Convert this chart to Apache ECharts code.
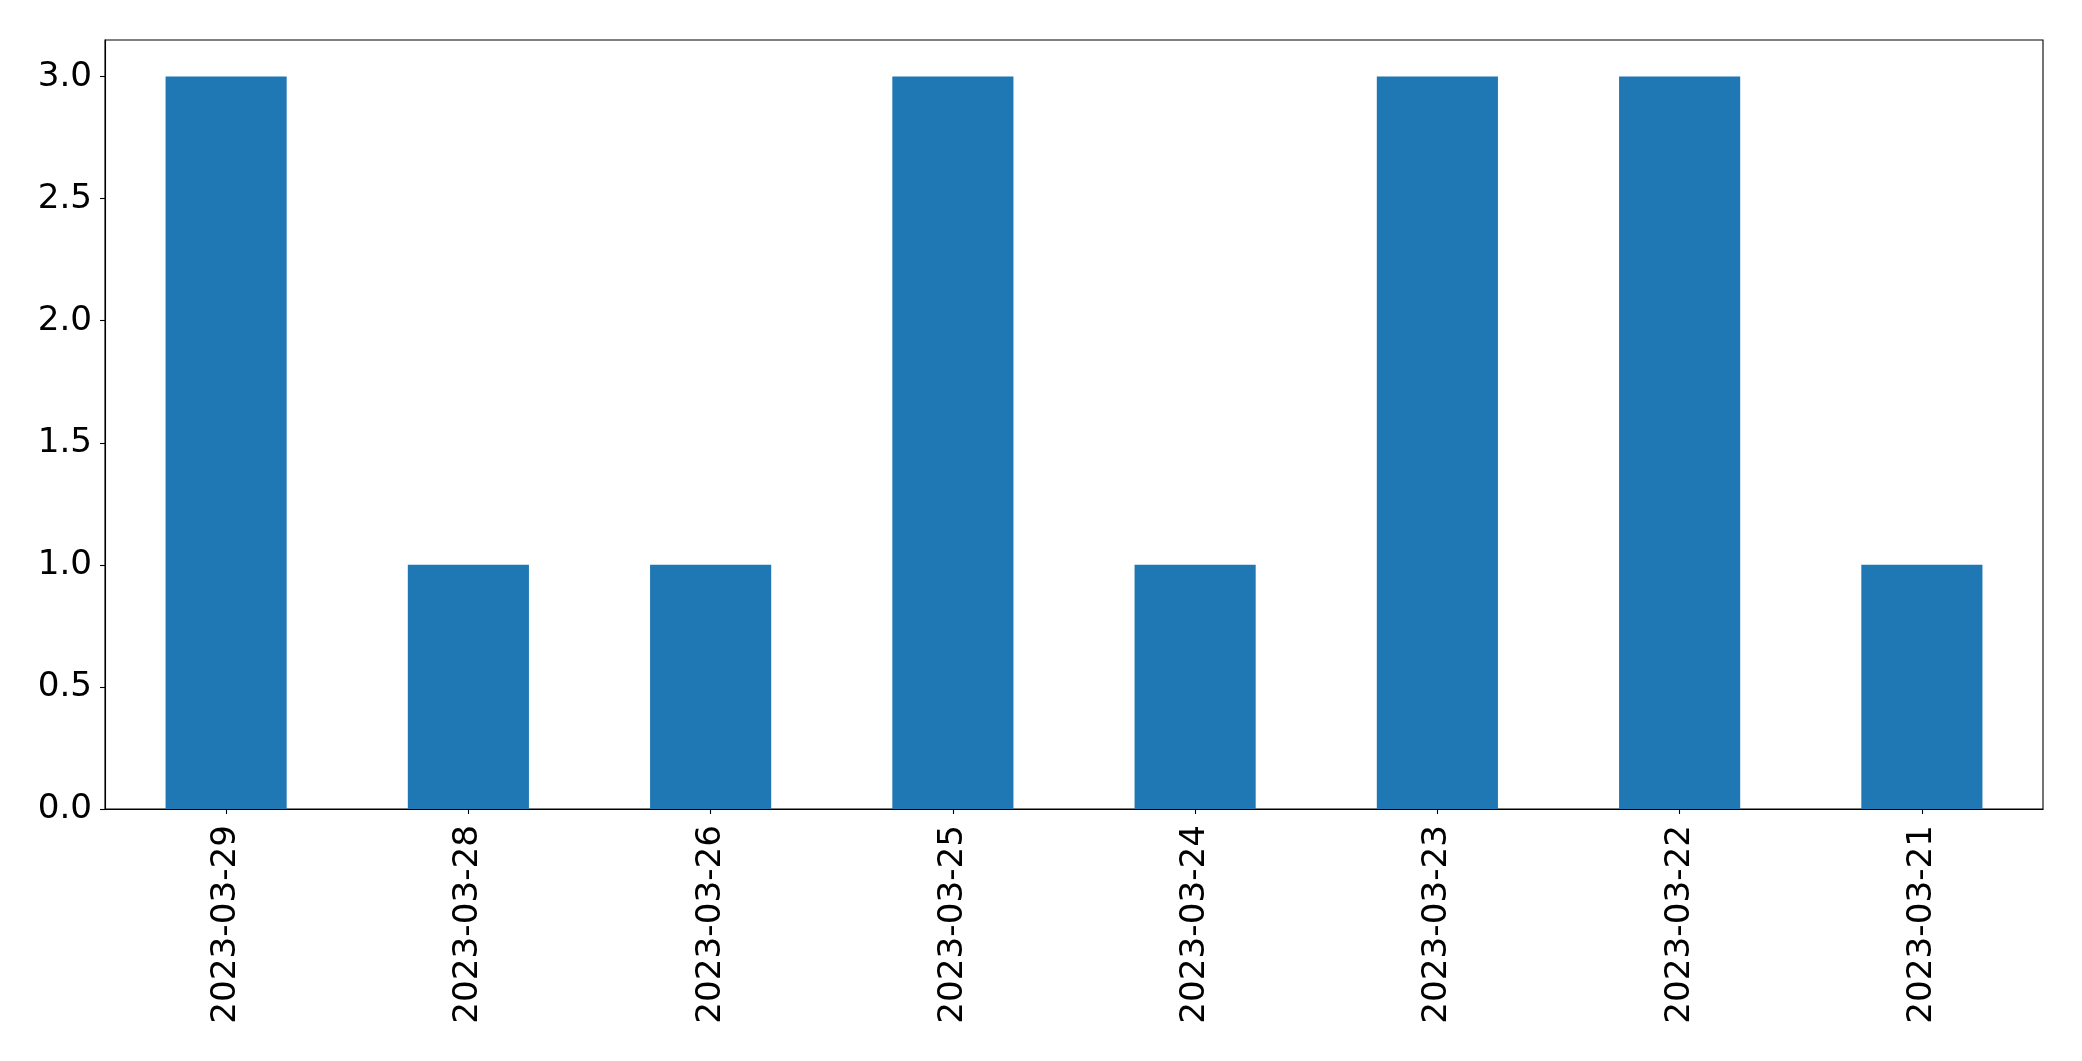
<!DOCTYPE html>
<html>
<head>
<meta charset="utf-8">
<script src="https://cdn.jsdelivr.net/npm/echarts@6/dist/echarts.min.js"></script>
<style>
html,body{margin:0;padding:0;background:#fff;}
#main{width:2082px;height:1061px;}
</style>
</head>
<body>
<div id="main"></div>
<script>
const categories = ['2023-03-29','2023-03-28','2023-03-26','2023-03-25','2023-03-24','2023-03-23','2023-03-22','2023-03-21'];
const values = [3,1,1,3,1,3,3,1];
const yTicks = [0,0.5,1,1.5,2,2.5,3];

const chart = echarts.init(document.getElementById('main'), null, {renderer:'canvas'});
const font = 'DejaVu Sans';
chart.setOption({
  animation:false,
  backgroundColor:'#ffffff',
  grid:{left:105, right:39, top:40, bottom:252, show:true, borderColor:'#000', borderWidth:1.1, containLabel:false, outerBoundsMode:'none'},
  xAxis:{
    type:'category', data:categories, boundaryGap:true,
    axisLine:{show:true, lineStyle:{color:'#000', width:1.1}},
    axisTick:{show:true, alignWithLabel:true, length:5, lineStyle:{color:'#000', width:1.1}},
    axisLabel:{rotate:90, margin:16, color:'#000', fontFamily:font, fontSize:34.2, interval:0},
    splitLine:{show:false}
  },
  yAxis:{
    type:'value', min:0, max:3.15,
    axisLine:{show:true, lineStyle:{color:'#000', width:1.1}},
    axisTick:{show:true, length:5, lineStyle:{color:'#000', width:1.1}, customValues:yTicks},
    axisLabel:{margin:13, color:'#000', fontFamily:font, fontSize:34.2, customValues:yTicks, formatter:v=>v.toFixed(1)},
    splitLine:{show:false}
  },
  series:[{type:'bar', data:values, barWidth:'50%', itemStyle:{color:'#1f77b4'}}]
});
</script>
</body>
</html>
